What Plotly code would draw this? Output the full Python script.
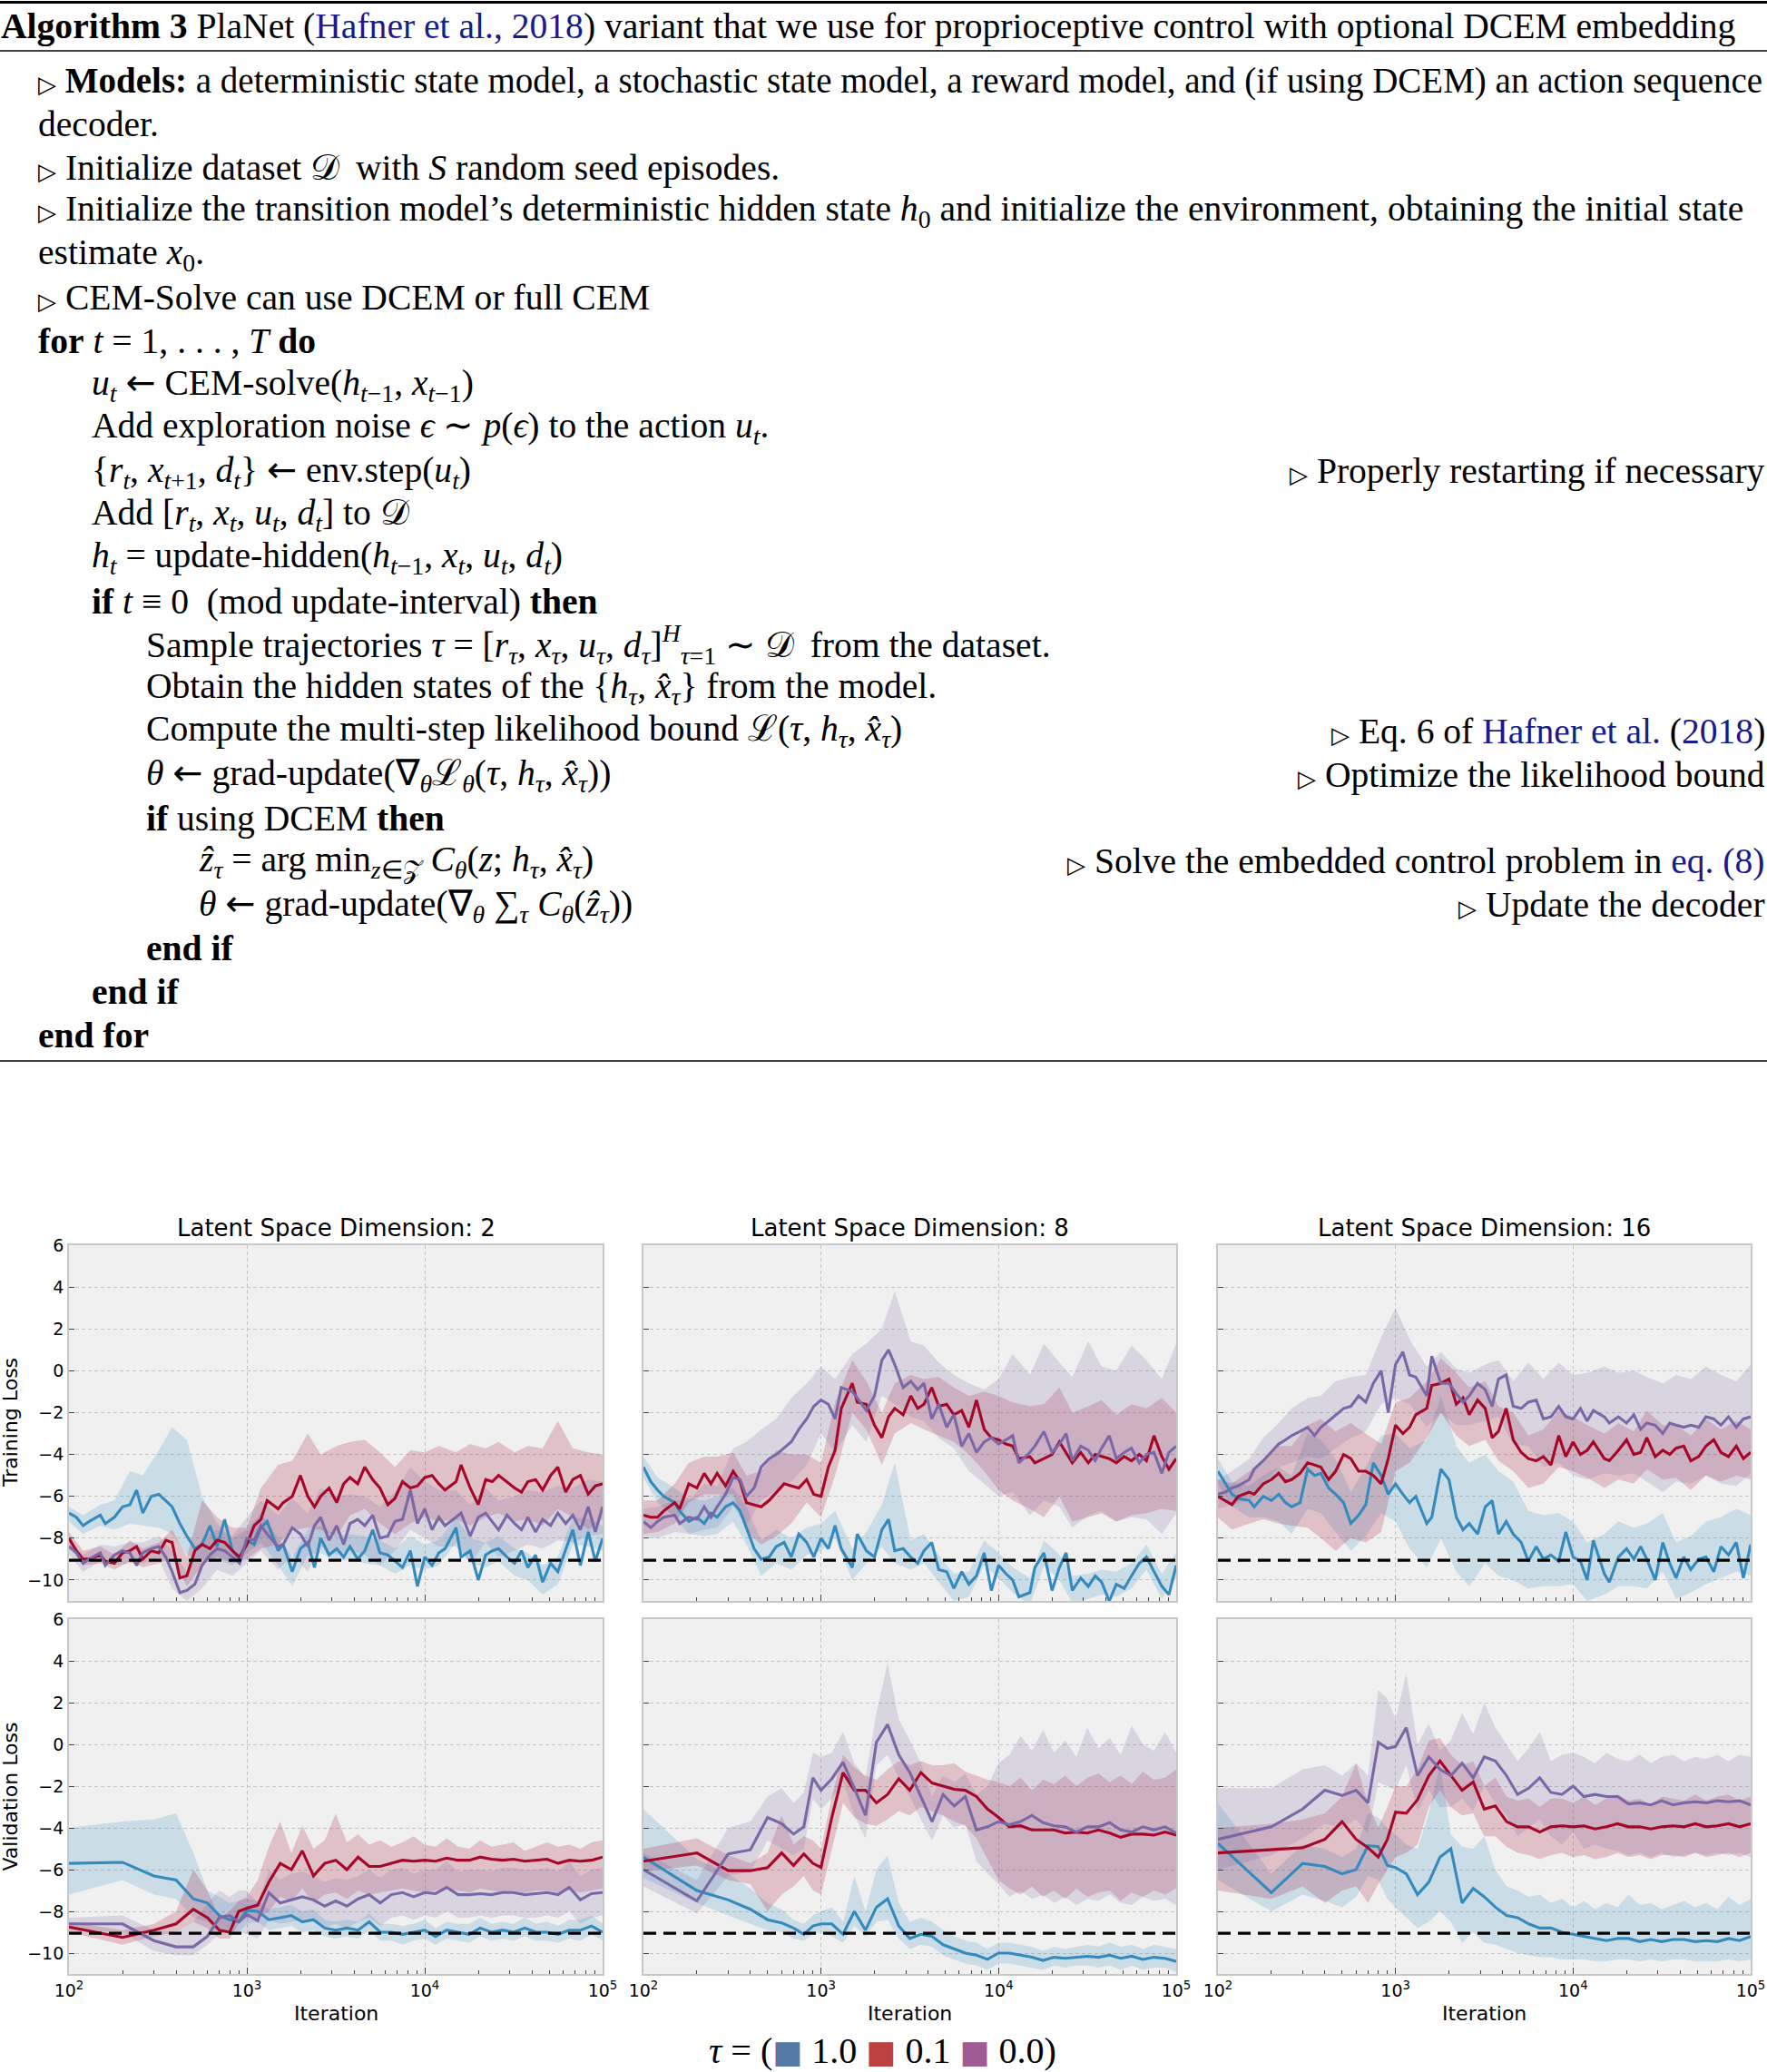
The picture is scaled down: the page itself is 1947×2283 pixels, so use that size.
import plotly.graph_objects as go

W, H = 1947, 2283

# ---------------- data ----------------
X_TRAIN = [100, 110, 120, 130, 150, 160, 180, 200, 220, 240, 260, 290, 320, 350, 380, 420, 460, 510, 560, 620, 680, 750, 830, 910,
           1000, 1100, 1200, 1300, 1500, 1600, 1800, 2000, 2200, 2400, 2600, 2900, 3200, 3500, 3800, 4200, 4600, 5100, 5600, 6200, 6800, 7500, 8300, 9100,
           10000, 11000, 12000, 13000, 15000, 16000, 18000, 20000, 22000, 24000, 26000, 29000, 32000, 35000, 38000, 42000, 46000, 51000, 56000, 62000, 68000, 75000, 83000, 91000,
           100000]
X_VAL = [100, 200, 300, 400, 500, 600, 700, 800, 900, 1000,
         1150, 1330, 1540, 1780, 2050, 2370, 2740, 3160, 3650, 4220, 4870, 5620, 6490, 7500, 8660, 10000,
         11500, 13300, 15400, 17800, 20500, 23700, 27400, 31600, 36500, 42200, 48700, 56200, 64900, 75000, 86600, 100000]

BASELINE = -9.05

# Training, latent dim 2
TL_BLUE = [-6.8,-7.0,-7.4,-7.2,-6.9,-7.3,-7.0,-6.5,-6.4,-5.7,-6.8,-6.0,-5.9,-6.2,-6.5,-7.3,-7.9,-8.5,-8.3,-7.4,-8.4,-7.1,-8.6,-9.0,
           -8.1,-8.3,-7.5,-7.2,-8.6,-8.3,-9.6,-8.5,-8.2,-9.4,-8.0,-8.8,-8.5,-8.9,-8.4,-9.0,-8.6,-7.6,-8.7,-8.8,-9.1,-9.4,-8.6,-10.3,
           -8.9,-9.3,-8.7,-8.5,-7.5,-8.9,-8.6,-10.0,-8.8,-8.6,-8.5,-8.9,-9.2,-8.6,-9.4,-8.8,-10.1,-9.2,-9.6,-8.5,-7.6,-9.3,-7.7,-9.1,
           -8.0]
TL_RED = [-8.0,-8.6,-9.0,-9.0,-8.8,-9.1,-9.2,-8.7,-8.6,-8.4,-9.0,-8.6,-8.7,-8.1,-8.2,-9.9,-9.8,-8.6,-8.3,-8.5,-8.1,-8.2,-8.6,-8.9,
          -8.3,-7.4,-7.1,-6.2,-6.6,-6.3,-6.0,-5.0,-6.0,-6.5,-6.0,-5.6,-6.3,-5.4,-5.1,-5.4,-4.6,-5.2,-5.6,-6.4,-6.1,-5.3,-5.6,-5.5,
          -5.1,-5.0,-5.4,-5.7,-5.3,-4.5,-5.6,-6.4,-5.2,-5.3,-5.0,-5.3,-5.6,-5.8,-5.3,-5.2,-5.7,-5.0,-4.6,-5.8,-5.2,-5.0,-5.9,-5.5,
          -5.4]
TL_PURPLE = [-8.4,-8.7,-9.2,-9.0,-8.7,-9.3,-8.8,-8.6,-8.7,-9.3,-8.7,-8.5,-8.4,-8.9,-9.6,-10.6,-10.5,-10.2,-9.3,-8.8,-8.5,-8.6,-8.9,-9.2,
             -8.0,-8.1,-7.4,-7.8,-8.4,-8.3,-7.5,-7.8,-8.4,-7.4,-7.0,-8.1,-7.4,-8.3,-7.3,-7.1,-7.4,-6.9,-8.0,-7.9,-7.2,-7.1,-5.7,-7.3,
             -6.6,-7.6,-7.0,-7.4,-7.0,-6.8,-7.9,-7.0,-6.8,-7.2,-7.6,-6.9,-7.3,-7.6,-7.0,-7.7,-7.1,-7.4,-6.8,-7.3,-6.9,-7.6,-6.5,-7.7,
             -6.5]
TL_BLUE_HI = [-6.5,-6.9,-6.4,-6.2,-4.8,-5.0,-3.8,-2.7,-3.3,-6.0,-7.3,-8.0,-7.6,-6.8,-8.0,-8.9,-7.6,-7.4,-7.9,-7.8,-7.9,-8.1,-8.5,-7.9,-8.3,-8.1,-7.0,-8.0,-8.2,-7.9,-8.5,-8.7,-9.3,-8.9,-7.0,-7.1,-7.4]
TL_BLUE_LO = [-7.2,-7.8,-7.4,-7.6,-7.3,-7.4,-7.5,-7.8,-8.8,-9.0,-9.0,-9.3,-8.7,-8.2,-9.3,-10.3,-8.8,-8.7,-9.1,-9.0,-9.2,-9.3,-9.7,-9.3,-9.5,-9.3,-8.2,-9.2,-9.4,-9.1,-9.8,-10.0,-10.7,-10.2,-8.3,-8.4,-8.6]
TL_RED_HI = [-7.7,-8.6,-8.4,-8.8,-8.1,-8.5,-8.2,-7.6,-8.9,-6.2,-7.0,-7.5,-7.5,-5.6,-4.5,-4.3,-3.0,-4.0,-3.6,-3.4,-3.3,-3.9,-4.6,-3.8,-3.9,-3.6,-3.9,-3.5,-3.7,-3.4,-3.9,-3.6,-3.7,-2.4,-3.7,-3.9,-4.0]
TL_RED_LO = [-8.3,-9.3,-9.2,-9.5,-9.1,-9.4,-9.2,-8.9,-10.3,-9.3,-8.9,-9.2,-9.0,-8.5,-8.3,-7.6,-7.5,-7.6,-7.9,-6.9,-6.6,-7.3,-7.8,-7.3,-7.0,-7.2,-7.1,-7.4,-7.0,-6.8,-7.2,-7.1,-7.4,-6.6,-7.0,-7.6,-7.1]
TL_PURPLE_HI = [-8.0,-8.8,-8.3,-8.4,-8.2,-8.2,-7.9,-8.6,-9.6,-8.0,-7.6,-7.9,-7.0,-6.2,-6.9,-6.1,-6.8,-5.6,-6.0,-5.9,-6.0,-6.5,-5.8,-4.6,-5.3,-5.7,-5.7,-6.4,-5.6,-6.2,-6.0,-5.7,-5.8,-5.5,-5.6,-5.2,-5.3]
TL_PURPLE_LO = [-8.8,-9.6,-9.1,-9.3,-9.2,-9.2,-9.0,-10.4,-11.0,-10.4,-9.5,-9.8,-9.2,-8.6,-9.5,-8.8,-9.6,-8.4,-8.8,-8.6,-8.8,-9.3,-8.6,-7.6,-8.0,-8.4,-8.4,-9.2,-8.2,-8.9,-8.6,-8.3,-8.5,-8.1,-8.2,-7.9,-7.8]

# Training, latent dim 8
TM_BLUE = [-4.6,-5.3,-5.7,-6.0,-6.3,-6.7,-7.2,-7.0,-7.3,-6.8,-7.0,-6.5,-6.3,-6.7,-7.5,-8.5,-9.0,-8.9,-8.4,-8.2,-8.9,-7.8,-8.2,-8.9,
           -8.0,-8.5,-7.4,-8.5,-9.4,-7.8,-8.6,-8.9,-7.6,-7.1,-8.6,-8.5,-8.9,-9.2,-8.6,-8.2,-9.5,-9.6,-10.4,-9.6,-10.2,-9.8,-8.7,-10.5,
           -9.3,-9.7,-10.0,-10.8,-10.6,-9.4,-8.7,-10.5,-9.4,-8.7,-10.5,-9.9,-10.3,-9.8,-10.1,-11.0,-10.2,-10.4,-9.8,-9.2,-8.9,-9.6,-10.3,-10.7,
           -9.3]
TM_RED = [-6.9,-7.0,-7.0,-6.7,-6.3,-6.6,-5.4,-5.6,-4.9,-5.4,-4.9,-5.5,-4.8,-5.3,-6.3,-6.4,-6.5,-6.2,-5.8,-5.4,-5.5,-5.6,-5.2,-5.9,
          -6.0,-4.6,-3.8,-1.8,-0.6,-1.5,-1.6,-2.6,-3.2,-2.2,-1.8,-2.1,-1.2,-1.8,-1.6,-0.8,-1.7,-1.6,-2.1,-1.9,-2.7,-1.4,-2.8,-3.2,
          -3.3,-3.5,-3.6,-4.2,-4.1,-4.4,-4.2,-4.0,-3.4,-3.9,-4.4,-3.9,-4.4,-4.0,-4.1,-4.2,-4.4,-4.1,-4.3,-4.0,-4.3,-3.1,-4.1,-4.7,
          -4.2]
TM_PURPLE = [-7.2,-7.5,-7.2,-7.0,-6.9,-7.3,-7.0,-7.1,-6.5,-7.0,-6.5,-5.9,-5.1,-5.2,-6.0,-5.6,-4.6,-4.2,-4.0,-3.7,-3.4,-2.8,-2.3,-1.7,
             -1.4,-1.6,-2.3,-0.8,-1.0,-1.3,-1.9,-1.2,0.5,1.0,0.3,-0.8,-0.5,-0.9,-0.6,-2.3,-1.6,-2.7,-2.1,-3.6,-3.0,-3.9,-3.4,-3.2,
             -3.5,-3.3,-3.1,-4.4,-3.9,-3.6,-2.9,-3.9,-3.5,-3.0,-4.3,-3.6,-3.8,-4.3,-3.7,-3.1,-4.2,-3.9,-3.7,-4.4,-4.0,-3.9,-4.9,-3.9,
             -3.6]
TM_BLUE_HI = [-4.1,-5.1,-5.6,-6.1,-6.2,-6.0,-5.6,-6.5,-8.1,-7.6,-8.0,-7.5,-7.3,-6.7,-8.5,-7.7,-6.4,-4.4,-8.1,-7.8,-8.8,-9.7,-9.6,-8.1,-8.7,-9.4,-9.9,-8.1,-8.8,-9.8,-9.7,-9.5,-9.6,-9.2,-8.3,-9.7,-8.7]
TM_BLUE_LO = [-5.1,-6.3,-7.0,-7.8,-7.9,-7.8,-7.2,-8.3,-9.8,-9.2,-9.5,-8.8,-8.6,-8.0,-10.0,-9.2,-8.4,-9.2,-9.5,-9.2,-10.1,-11.0,-10.8,-9.3,-9.9,-10.6,-11.2,-9.3,-10.0,-11.1,-10.9,-10.7,-10.8,-10.4,-9.5,-10.9,-9.9]
TM_RED_HI = [-6.2,-6.2,-5.4,-4.4,-4.1,-4.1,-3.9,-5.0,-4.8,-3.8,-4.0,-4.0,-4.4,-1.5,0.5,-0.5,-2.0,-0.6,-0.2,-0.4,-0.3,-0.8,-1.2,-1.0,-1.2,-1.5,-1.7,-1.6,-0.8,-2.0,-1.7,-1.4,-2.1,-1.6,-1.8,-1.3,-2.0]
TM_RED_LO = [-7.8,-7.7,-7.3,-6.3,-5.9,-5.9,-5.9,-7.7,-8.3,-7.9,-7.3,-6.3,-7.0,-5.0,-2.0,-2.8,-4.5,-3.0,-2.5,-2.8,-3.1,-3.4,-4.0,-4.8,-5.7,-6.2,-6.6,-7.0,-6.0,-7.2,-7.0,-6.8,-7.2,-6.9,-6.8,-6.6,-6.7]
TM_PURPLE_HI = [-6.6,-6.5,-6.2,-6.2,-5.4,-5.5,-3.7,-3.4,-2.8,-2.3,-1.3,-0.6,0.2,-0.4,0.8,1.3,2.0,3.8,1.4,1.2,0.4,-0.2,-0.6,-0.9,-0.4,0.8,-0.2,1.3,0.4,-0.3,1.4,0.2,0.0,1.2,0.5,-0.4,1.3]
TM_PURPLE_LO = [-7.9,-8.0,-7.7,-7.8,-7.6,-7.5,-6.5,-7.4,-6.2,-5.7,-5.3,-4.5,-3.0,-3.9,-2.6,-3.4,-1.2,-1.6,-2.2,-2.4,-3.2,-3.7,-4.8,-5.4,-6.0,-5.8,-6.9,-6.2,-6.5,-7.5,-6.9,-6.7,-7.2,-7.0,-7.1,-7.8,-6.8]

# Training, latent dim 16
TR_BLUE = [-4.8,-5.4,-5.9,-6.1,-6.2,-6.5,-6.0,-6.2,-5.9,-6.3,-6.5,-6.3,-4.7,-5.0,-4.9,-5.6,-5.9,-6.3,-7.3,-6.9,-6.4,-4.4,-5.0,-5.9,
           -5.4,-5.9,-6.3,-6.0,-7.3,-7.0,-4.7,-5.2,-7.0,-7.6,-7.3,-7.8,-6.5,-6.2,-7.8,-7.2,-7.8,-8.2,-9.1,-8.4,-9.0,-8.8,-9.1,-7.7,
           -8.9,-9.1,-10.0,-8.1,-9.7,-10.1,-8.9,-8.5,-9.0,-8.4,-9.0,-10.0,-8.2,-9.2,-9.9,-8.9,-9.5,-9.0,-8.9,-9.6,-8.4,-8.8,-8.2,-9.9,
           -8.3]
TR_RED = [-6.0,-6.2,-6.4,-6.0,-5.8,-5.9,-5.4,-5.2,-4.9,-5.3,-5.2,-4.9,-4.4,-4.5,-4.6,-5.2,-4.8,-4.0,-4.2,-4.8,-4.8,-5.0,-5.4,-4.2,
          -2.6,-3.0,-2.7,-2.1,-1.8,-0.7,-0.6,-0.4,-1.6,-1.3,-2.1,-1.4,-1.8,-3.2,-2.9,-1.8,-3.3,-3.9,-4.2,-4.3,-4.1,-4.5,-3.1,-4.1,
          -3.4,-4.0,-3.8,-3.4,-4.2,-4.3,-3.8,-3.3,-4.0,-3.9,-3.2,-4.1,-3.8,-4.0,-3.7,-3.6,-4.3,-4.1,-3.6,-3.3,-3.9,-4.1,-3.6,-4.2,
          -3.9]
TR_PURPLE = [-5.9,-5.8,-5.6,-5.5,-5.2,-4.7,-4.3,-3.9,-3.5,-3.3,-3.1,-2.9,-2.7,-3.1,-2.7,-2.4,-2.1,-1.8,-1.7,-1.2,-1.5,-0.6,0.0,-2.0,
             0.3,0.9,-0.2,-0.3,-1.2,0.7,-0.6,-0.6,-1.1,-1.5,-1.2,-0.6,-0.9,-1.7,-0.4,-0.2,-1.7,-1.8,-1.5,-1.4,-2.3,-2.2,-1.7,-2.2,
             -2.3,-1.8,-2.4,-1.9,-2.2,-2.5,-2.2,-2.5,-2.1,-2.8,-2.5,-2.6,-3.0,-2.5,-2.6,-2.7,-2.6,-2.7,-2.2,-2.3,-2.6,-2.2,-2.7,-2.3,
             -2.2]
TR_BLUE_HI = [-4.2,-5.3,-5.5,-5.0,-4.6,-5.0,-3.0,-3.3,-4.2,-5.8,-4.6,-3.1,-3.0,-3.7,-3.3,-1.2,-3.6,-4.4,-4.0,-4.8,-5.3,-6.7,-6.9,-6.8,-7.2,-8.2,-7.8,-7.2,-7.5,-7.3,-6.8,-8.2,-7.9,-7.2,-7.0,-6.6,-6.9]
TR_BLUE_LO = [-5.4,-6.5,-7.0,-7.0,-7.2,-7.8,-6.6,-6.8,-7.7,-8.6,-7.9,-6.8,-7.2,-8.5,-9.4,-8.0,-9.6,-10.3,-9.2,-9.8,-10.0,-10.4,-10.3,-10.3,-10.2,-11.0,-10.7,-10.3,-10.3,-10.4,-9.6,-10.9,-10.6,-10.2,-9.9,-9.6,-9.8]
TR_RED_HI = [-5.2,-5.4,-4.8,-4.3,-3.6,-3.6,-2.6,-2.3,-2.9,-2.5,-3.0,-3.5,-1.5,-1.3,-0.5,0.6,-0.1,-0.8,-0.5,-1.7,-2.0,-3.1,-2.8,-1.9,-2.2,-2.6,-3.0,-2.5,-2.9,-1.9,-2.6,-2.6,-3.1,-2.3,-2.8,-2.4,-2.8]
TR_RED_LO = [-7.0,-7.6,-7.3,-7.1,-7.3,-7.4,-7.5,-8.0,-8.6,-8.0,-8.2,-7.7,-4.8,-4.4,-3.2,-2.0,-3.1,-3.6,-3.3,-4.3,-4.8,-5.6,-5.4,-4.6,-4.8,-5.1,-5.6,-5.2,-5.4,-4.7,-5.2,-5.1,-5.7,-5.0,-5.3,-5.0,-5.2]
TR_PURPLE_HI = [-5.2,-4.8,-4.2,-3.2,-2.5,-1.8,-1.3,-1.2,-0.5,-0.3,-0.2,1.6,3.0,1.5,0.2,0.9,0.1,-0.1,0.3,0.5,-0.5,0.4,-0.4,0.4,-0.2,-0.1,0.2,-0.1,0.0,-0.3,-0.6,-0.2,-0.4,0.2,-0.2,-0.5,0.3]
TR_PURPLE_LO = [-6.6,-6.4,-6.2,-5.4,-4.6,-4.4,-4.1,-4.2,-3.7,-3.2,-2.9,-1.6,-1.3,-1.6,-2.7,-2.0,-2.6,-2.6,-2.4,-2.2,-3.5,-3.6,-4.6,-4.4,-5.0,-5.2,-4.9,-5.0,-4.9,-5.3,-5.8,-5.3,-5.4,-5.0,-5.4,-5.5,-4.9]

# Validation, latent dim 2
BL_BLUE = [-5.7,-5.65,-6.3,-6.5,-7.4,-7.6,-8.2,-8.4,-8.5,-7.95,
           -8.0,-8.4,-8.3,-8.2,-8.5,-8.4,-8.8,-8.9,-8.8,-8.9,-8.5,-9.0,-9.0,-9.1,-9.0,-8.9,
           -9.2,-8.9,-9.0,-9.1,-8.8,-9.0,-8.9,-9.0,-8.8,-9.0,-9.0,-9.1,-8.9,-8.9,-8.7,-9.0]
BL_BLUE_HI = [-4.0,-3.7,-3.6,-3.3,-5.2,-7.0,-7.3,-7.6,-7.5,-7.4,
              -7.5,-7.9,-7.8,-7.7,-8.0,-7.9,-8.4,-8.5,-8.4,-8.5,-8.1,-8.6,-8.6,-8.7,-8.6,-8.4,
              -8.8,-8.5,-8.6,-8.6,-8.3,-8.6,-8.5,-8.6,-8.3,-8.6,-8.5,-8.7,-8.4,-8.4,-8.2,-8.6]
BL_BLUE_LO = [-7.2,-6.5,-7.2,-7.4,-8.3,-8.5,-9.0,-9.0,-9.0,-8.6,
              -8.5,-8.9,-8.8,-8.7,-9.0,-8.9,-9.2,-9.3,-9.2,-9.3,-8.9,-9.4,-9.4,-9.6,-9.4,-9.3,
              -9.6,-9.3,-9.4,-9.5,-9.2,-9.4,-9.3,-9.4,-9.2,-9.4,-9.4,-9.5,-9.3,-9.4,-9.1,-9.4]
BL_RED = [-8.75,-9.25,-8.9,-8.6,-7.9,-8.3,-8.9,-9.0,-8.0,-7.85,
          -7.7,-6.6,-5.7,-6.0,-5.1,-6.3,-5.7,-5.55,-6.0,-5.4,-5.85,-5.85,-5.7,-5.55,-5.6,-5.55,
          -5.6,-5.45,-5.55,-5.55,-5.4,-5.5,-5.55,-5.5,-5.6,-5.55,-5.5,-5.7,-5.55,-5.6,-5.55,-5.4]
BL_RED_HI = [-8.5,-8.9,-8.6,-8.0,-6.0,-7.0,-8.3,-8.0,-7.5,-7.3,
             -6.5,-4.9,-3.7,-5.2,-3.9,-5.0,-4.6,-3.3,-4.7,-4.3,-4.8,-4.6,-4.9,-4.7,-4.4,-4.8,
             -4.9,-4.5,-4.9,-5.0,-4.6,-4.9,-4.8,-4.7,-5.1,-4.9,-4.7,-4.9,-4.8,-5.0,-4.7,-4.6]
BL_RED_LO = [-9.0,-9.6,-9.2,-9.0,-8.5,-8.8,-9.3,-9.3,-8.6,-8.3,
             -8.3,-8.0,-7.3,-7.5,-6.9,-7.6,-7.2,-7.1,-7.4,-7.0,-7.2,-7.1,-7.0,-6.9,-7.0,-7.1,
             -7.0,-6.9,-7.0,-7.1,-6.9,-7.0,-7.1,-7.0,-7.1,-7.0,-7.0,-7.1,-7.0,-7.1,-7.0,-6.9]
BL_PURPLE = [-8.6,-8.6,-9.4,-9.7,-9.7,-9.2,-8.3,-8.2,-8.5,-8.15,
             -8.45,-7.1,-7.6,-7.45,-7.3,-7.45,-7.75,-7.5,-7.75,-7.4,-7.2,-7.6,-7.2,-7.1,-7.3,-7.1,
             -7.15,-6.85,-7.2,-7.2,-7.15,-7.2,-7.1,-7.1,-7.2,-7.15,-7.1,-7.2,-6.85,-7.45,-7.15,-7.1]
BL_PURPLE_HI = [-8.3,-8.2,-8.9,-9.0,-8.5,-7.6,-7.0,-7.3,-7.0,-7.0,
                -7.6,-6.0,-6.5,-6.2,-6.1,-6.3,-6.6,-6.4,-6.5,-6.3,-6.0,-6.4,-6.0,-5.9,-6.2,-6.0,
                -6.0,-5.6,-6.1,-6.0,-6.0,-6.1,-5.9,-5.9,-6.0,-6.0,-5.9,-6.1,-5.6,-6.3,-6.0,-5.9]
BL_PURPLE_LO = [-8.9,-9.0,-9.9,-10.1,-10.1,-9.6,-9.1,-9.0,-9.0,-9.1,
                -9.3,-8.4,-8.6,-8.5,-8.4,-8.5,-8.8,-8.6,-8.8,-8.5,-8.3,-8.7,-8.3,-8.2,-8.4,-8.2,
                -8.3,-8.0,-8.3,-8.3,-8.2,-8.3,-8.2,-8.2,-8.3,-8.3,-8.2,-8.3,-8.0,-8.6,-8.3,-8.2]

# Validation, latent dim 8
BM_BLUE = [-5.4,-7.0,-7.45,-7.9,-8.4,-8.55,-8.8,-9.1,-8.7,-8.6,
           -8.6,-9.1,-8.0,-8.9,-7.8,-7.4,-8.7,-9.3,-9.1,-9.2,-9.6,-9.8,-10.0,-10.1,-10.3,-10.0,
           -10.0,-10.1,-10.2,-10.35,-10.2,-10.25,-10.2,-10.15,-10.2,-10.1,-10.25,-10.15,-10.3,-10.2,-10.25,-10.4]
BM_BLUE_HI = [-3.1,-5.5,-6.2,-6.9,-7.6,-7.9,-8.4,-8.6,-8.2,-8.0,
              -7.8,-8.5,-6.3,-8.0,-6.0,-5.3,-7.6,-8.5,-8.3,-8.5,-8.9,-9.2,-9.4,-9.5,-9.8,-9.5,
              -9.5,-9.6,-9.7,-9.9,-9.7,-9.8,-9.7,-9.6,-9.7,-9.5,-9.7,-9.6,-9.8,-9.6,-9.7,-9.8]
BM_BLUE_LO = [-6.4,-7.6,-8.2,-8.6,-8.9,-9.0,-9.3,-9.4,-9.1,-9.0,
              -9.2,-9.5,-8.7,-9.2,-8.5,-8.4,-9.3,-9.8,-9.6,-9.7,-10.1,-10.3,-10.5,-10.6,-10.8,-10.5,
              -10.5,-10.6,-10.7,-10.8,-10.6,-10.7,-10.6,-10.6,-10.7,-10.6,-10.8,-10.6,-10.8,-10.7,-10.7,-10.9]
BM_RED = [-5.6,-5.2,-6.05,-6.05,-5.9,-5.2,-5.8,-5.25,-5.7,-5.9,
          -3.5,-1.35,-2.2,-2.2,-2.8,-2.4,-1.65,-2.2,-1.35,-1.85,-2.0,-2.15,-2.2,-2.5,-3.1,-3.5,
          -3.95,-3.9,-4.1,-4.1,-4.1,-4.25,-4.2,-4.25,-4.1,-4.25,-4.45,-4.3,-4.3,-4.35,-4.2,-4.35]
BM_RED_HI = [-5.0,-4.5,-5.3,-5.7,-5.2,-3.4,-4.8,-4.4,-4.6,-5.0,
             -2.5,-0.5,-1.1,-1.5,-1.7,-1.2,-0.8,-1.0,-0.8,-1.0,-1.0,-0.9,-1.3,-1.5,-1.7,-1.8,
             -2.0,-1.6,-2.2,-1.7,-1.9,-1.5,-2.0,-1.6,-1.4,-1.8,-1.5,-1.9,-1.3,-1.7,-1.6,-1.2]
BM_RED_LO = [-6.1,-5.8,-6.5,-6.7,-8.0,-7.2,-6.8,-6.3,-7.0,-7.2,
             -5.0,-2.8,-3.5,-3.8,-3.9,-3.6,-3.2,-3.4,-3.0,-3.2,-3.4,-3.7,-3.9,-4.5,-5.5,-6.5,
             -6.9,-7.2,-6.8,-7.3,-7.0,-7.4,-6.9,-7.3,-7.1,-7.0,-7.5,-7.1,-7.3,-7.0,-7.2,-6.9]
BM_PURPLE = [-6.0,-7.5,-5.25,-5.05,-3.5,-3.8,-4.3,-3.95,-1.6,-2.2,
             -1.65,-0.85,-2.1,-3.4,0.1,0.95,-0.5,-1.35,-2.5,-3.7,-2.4,-2.95,-2.5,-4.1,-3.95,-3.7,
             -3.85,-3.7,-3.4,-3.75,-3.9,-3.95,-4.2,-3.95,-3.95,-3.75,-4.1,-4.2,-3.95,-4.1,-3.95,-4.25]
BM_PURPLE_HI = [-5.2,-6.5,-4.0,-3.7,-2.5,-2.1,-2.8,-2.3,-0.4,-0.6,
                -0.4,0.6,-0.9,-1.6,1.5,3.9,1.2,0.2,-0.9,-2.5,-1.5,-1.8,-1.4,-2.4,-2.0,-0.9,
                -0.5,0.4,-0.3,0.7,-0.4,0.2,-0.6,0.8,-0.2,0.3,-0.5,0.9,0.0,-0.3,0.6,-0.4]
BM_PURPLE_LO = [-6.8,-8.1,-6.3,-6.1,-4.6,-5.0,-5.3,-5.0,-2.6,-3.1,
                -2.6,-1.8,-3.4,-4.5,-1.0,-0.5,-1.6,-2.5,-3.6,-4.6,-3.4,-4.0,-3.8,-5.6,-6.2,-6.7,
                -7.3,-7.0,-7.4,-7.2,-7.6,-7.3,-7.7,-7.4,-7.5,-7.2,-7.6,-7.7,-7.3,-7.5,-7.4,-7.7]

# Validation, latent dim 16
BR_BLUE = [-4.75,-7.1,-5.7,-5.85,-6.2,-6.0,-4.85,-4.9,-5.8,-5.9,
           -6.2,-7.2,-6.6,-5.4,-5.0,-7.6,-6.9,-7.3,-7.8,-8.2,-8.3,-8.6,-8.8,-8.8,-9.0,-9.1,
           -9.2,-9.3,-9.4,-9.3,-9.3,-9.45,-9.35,-9.45,-9.35,-9.35,-9.45,-9.4,-9.45,-9.3,-9.4,-9.2]
BR_BLUE_HI = [-2.8,-6.2,-4.8,-5.0,-5.4,-5.0,-3.3,-3.5,-4.0,-4.3,
              -4.8,-5.0,-3.3,-1.0,-4.3,-4.9,-5.0,-4.4,-6.0,-6.8,-7.0,-7.3,-7.2,-7.6,-7.4,-7.8,
              -7.5,-7.9,-7.6,-7.8,-7.2,-7.7,-7.6,-7.9,-7.7,-7.5,-7.8,-7.6,-7.9,-7.3,-7.7,-7.4]
BR_BLUE_LO = [-6.5,-8.0,-7.2,-7.5,-7.8,-7.3,-6.3,-6.5,-7.4,-7.8,
              -8.3,-8.8,-8.5,-8.0,-8.5,-9.5,-9.0,-9.5,-9.6,-9.8,-10.0,-10.1,-10.2,-10.2,-10.3,-10.3,
              -10.3,-10.4,-10.4,-10.3,-10.3,-10.4,-10.3,-10.4,-10.3,-10.3,-10.4,-10.4,-10.4,-10.3,-10.4,-10.3]
BR_RED = [-5.2,-5.05,-4.95,-4.55,-3.7,-4.55,-4.95,-5.4,-4.55,-3.25,
          -3.3,-2.65,-1.5,-0.8,-1.5,-2.2,-1.8,-3.1,-2.95,-3.7,-3.95,-3.95,-4.2,-3.95,-3.9,-3.95,
          -3.9,-4.05,-3.95,-3.8,-3.95,-3.95,-4.05,-3.95,-3.9,-3.95,-3.8,-3.95,-3.9,-3.8,-3.95,-3.8]
BR_RED_HI = [-4.0,-3.8,-3.6,-3.3,-2.5,-0.9,-2.8,-4.0,-3.0,-2.0,
             -2.0,-1.2,0.2,0.3,-0.5,-1.0,-0.8,-2.0,-1.6,-2.5,-2.7,-2.6,-3.0,-2.6,-2.6,-2.8,
             -2.5,-2.9,-2.6,-2.4,-2.7,-2.6,-2.9,-2.5,-2.6,-2.7,-2.4,-2.7,-2.5,-2.4,-2.7,-2.5]
BR_RED_LO = [-7.0,-7.4,-6.8,-7.6,-7.0,-6.8,-7.6,-6.7,-6.0,-5.4,
             -5.2,-4.8,-3.0,-2.2,-3.0,-3.4,-3.3,-4.4,-4.4,-4.9,-5.2,-5.3,-5.5,-5.3,-5.2,-5.4,
             -5.3,-5.5,-5.4,-5.2,-5.4,-5.3,-5.5,-5.3,-5.3,-5.4,-5.2,-5.4,-5.3,-5.2,-5.4,-5.2]
BR_PURPLE = [-4.55,-3.95,-3.1,-2.2,-2.45,-2.2,-2.8,0.1,-0.2,-0.1,
             0.8,-1.5,-0.6,-1.2,-1.5,-0.9,-1.6,-0.6,-0.8,-1.5,-2.4,-2.1,-1.6,-2.3,-2.4,-2.0,
             -2.5,-2.4,-2.5,-2.5,-2.85,-2.8,-2.9,-2.7,-2.9,-2.8,-2.75,-2.8,-2.7,-2.75,-2.7,-2.9]
BR_PURPLE_HI = [-2.1,-2.1,-1.2,-1.0,-1.5,-0.9,-1.5,2.6,2.2,1.2,
                3.4,0.0,1.0,-0.3,0.2,1.5,0.5,2.0,0.8,0.0,-0.8,-0.2,0.6,-0.8,-0.5,-0.4,
                -0.6,-0.9,-0.4,-0.7,-0.8,-0.5,-0.9,-0.6,-0.5,-0.8,-0.6,-0.7,-0.5,-0.8,-0.5,-0.6]
BR_PURPLE_LO = [-6.0,-5.3,-4.5,-3.8,-4.0,-3.6,-4.3,-1.8,-2.0,-2.2,
                -1.0,-3.2,-2.2,-3.0,-3.0,-2.6,-3.2,-2.0,-2.8,-3.4,-4.4,-4.0,-3.6,-4.4,-4.8,-4.2,
                -5.0,-4.8,-5.0,-5.1,-5.3,-5.2,-5.4,-5.2,-5.4,-5.3,-5.2,-5.3,-5.2,-5.3,-5.2,-5.4]

PANEL_TITLES = ["Latent Space Dimension: 2", "Latent Space Dimension: 8", "Latent Space Dimension: 16"]
ROW_LABELS = ["Training Loss", "Validation Loss"]
X_LABEL = "Iteration"
X_TICKS = [100, 1000, 10000, 100000]
X_TICK_TEXT = ["10<sup>2</sup>", "10<sup>3</sup>", "10<sup>4</sup>", "10<sup>5</sup>"]
X_MINOR = [m * d for d in (100, 1000, 10000) for m in range(2, 10)]
Y_TICKS = [-10, -8, -6, -4, -2, 0, 2, 4, 6]
Y_TICK_TEXT = ["\u221210", "\u22128", "\u22126", "\u22124", "\u22122", "0", "2", "4", "6"]
TAU_LABELS = ["1.0", "0.1", "0.0"]

LINK = "#1a1a8c"
def link(t):
    return "<span style='color:%s'>%s</span>" % (LINK, t)

TRI = "<span style='font-family:DejaVu Sans;font-size:26px'>\u25b7</span>"
ARR = "<span style='font-family:DejaVu Sans'>\u2190</span>"
CAL_D = "\U0001D49F\u2009"
CAL_Z = "\U0001D4B5"

ALGO_TITLE = "<b>Algorithm 3</b> PlaNet (" + link("Hafner et al., 2018") + ") variant that we use for proprioceptive control with optional DCEM embedding"
# (indent level, text, right-aligned comment)
ALGO_LINES = [
    (0, TRI + " <b>Models:</b> a deterministic state model, a stochastic state model, a reward model, and (if using DCEM) an action sequence", None),
    (0, "decoder.", None),
    (0, TRI + " Initialize dataset " + CAL_D + " with <i>S</i> random seed episodes.", None),
    (0, TRI + " Initialize the transition model\u2019s deterministic hidden state <i>h</i><sub>0</sub> and initialize the environment, obtaining the initial state", None),
    (0, "estimate <i>x</i><sub>0</sub>.", None),
    (0, TRI + " CEM-Solve can use DCEM or full CEM", None),
    (0, "<b>for</b> <i>t</i> = 1, . . . , <i>T</i> <b>do</b>", None),
    (1, "<i>u<sub>t</sub></i> " + ARR + " CEM-solve(<i>h</i><sub><i>t</i>\u22121</sub>, <i>x</i><sub><i>t</i>\u22121</sub>)", None),
    (1, "Add exploration noise <i>\u03f5</i> \u223c <i>p</i>(<i>\u03f5</i>) to the action <i>u<sub>t</sub></i>.", None),
    (1, "{<i>r<sub>t</sub></i>, <i>x</i><sub><i>t</i>+1</sub>, <i>d<sub>t</sub></i>} " + ARR + " env.step(<i>u<sub>t</sub></i>)", TRI + " Properly restarting if necessary"),
    (1, "Add [<i>r<sub>t</sub></i>, <i>x<sub>t</sub></i>, <i>u<sub>t</sub></i>, <i>d<sub>t</sub></i>] to " + CAL_D, None),
    (1, "<i>h<sub>t</sub></i> = update-hidden(<i>h</i><sub><i>t</i>\u22121</sub>, <i>x<sub>t</sub></i>, <i>u<sub>t</sub></i>, <i>d<sub>t</sub></i>)", None),
    (1, "<b>if</b> <i>t</i> \u2261 0  (mod update-interval) <b>then</b>", None),
    (2, "Sample trajectories <i>\u03c4</i> = [<i>r<sub>\u03c4</sub></i>, <i>x<sub>\u03c4</sub></i>, <i>u<sub>\u03c4</sub></i>, <i>d<sub>\u03c4</sub></i>]<sup><i>H</i></sup><sub><i>\u03c4</i>=1</sub> \u223c " + CAL_D + " from the dataset.", None),
    (2, "Obtain the hidden states of the {<i>h<sub>\u03c4</sub></i>, <i>x\u0302<sub>\u03c4</sub></i>} from the model.", None),
    (2, "Compute the multi-step likelihood bound \u2112(<i>\u03c4</i>, <i>h<sub>\u03c4</sub></i>, <i>x\u0302<sub>\u03c4</sub></i>)", TRI + " Eq. 6 of " + link("Hafner et al.") + " (" + link("2018") + ")"),
    (2, "<i>\u03b8</i> " + ARR + " grad-update(\u2207<sub><i>\u03b8</i></sub>\u2112<sub><i>\u03b8</i></sub>(<i>\u03c4</i>, <i>h<sub>\u03c4</sub></i>, <i>x\u0302<sub>\u03c4</sub></i>))", TRI + " Optimize the likelihood bound"),
    (2, "<b>if</b> using DCEM <b>then</b>", None),
    (3, "<i>\u1e91<sub>\u03c4</sub></i> = arg min<sub><i>z</i>\u2208" + CAL_Z + "</sub> <i>C<sub>\u03b8</sub></i>(<i>z</i>; <i>h<sub>\u03c4</sub></i>, <i>x\u0302<sub>\u03c4</sub></i>)", TRI + " Solve the embedded control problem in " + link("eq. (8)")),
    (3, "<i>\u03b8</i> " + ARR + " grad-update(\u2207<sub><i>\u03b8</i></sub> \u2211<sub><i>\u03c4</i></sub> <i>C<sub>\u03b8</sub></i>(<i>\u1e91<sub>\u03c4</sub></i>))", TRI + " Update the decoder"),
    (2, "<b>end if</b>", None),
    (1, "<b>end if</b>", None),
    (0, "<b>end for</b>", None),
]

# ---------------- styling / layout ----------------
BLUE, RED, PURPLE = "#348ABD", "#A60628", "#7A68A6"
FILLS = ["rgba(52,138,189,0.2)", "rgba(166,6,40,0.2)", "rgba(122,104,166,0.2)"]
LEGEND_SQ = ["#557AA6", "#BE4141", "#A05A94"]
SERIF = "Liberation Serif"
SANS = "DejaVu Sans"
ALGO_SIZE = 39.6
MODELS_SIZE = 39.0   # the justified first line is set a touch tighter

COL_X = [(76, 664), (709, 1296), (1342, 1929)]
ROW_Y = [(1372, 1764), (1784, 2175)]
INDENT_X = [41, 100, 160, 218]

panels = [
    (X_TRAIN, X_TRAIN[::2], [(TL_BLUE, TL_BLUE_LO, TL_BLUE_HI), (TL_RED, TL_RED_LO, TL_RED_HI), (TL_PURPLE, TL_PURPLE_LO, TL_PURPLE_HI)]),
    (X_TRAIN, X_TRAIN[::2], [(TM_BLUE, TM_BLUE_LO, TM_BLUE_HI), (TM_RED, TM_RED_LO, TM_RED_HI), (TM_PURPLE, TM_PURPLE_LO, TM_PURPLE_HI)]),
    (X_TRAIN, X_TRAIN[::2], [(TR_BLUE, TR_BLUE_LO, TR_BLUE_HI), (TR_RED, TR_RED_LO, TR_RED_HI), (TR_PURPLE, TR_PURPLE_LO, TR_PURPLE_HI)]),
    (X_VAL, X_VAL, [(BL_BLUE, BL_BLUE_LO, BL_BLUE_HI), (BL_RED, BL_RED_LO, BL_RED_HI), (BL_PURPLE, BL_PURPLE_LO, BL_PURPLE_HI)]),
    (X_VAL, X_VAL, [(BM_BLUE, BM_BLUE_LO, BM_BLUE_HI), (BM_RED, BM_RED_LO, BM_RED_HI), (BM_PURPLE, BM_PURPLE_LO, BM_PURPLE_HI)]),
    (X_VAL, X_VAL, [(BR_BLUE, BR_BLUE_LO, BR_BLUE_HI), (BR_RED, BR_RED_LO, BR_RED_HI), (BR_PURPLE, BR_PURPLE_LO, BR_PURPLE_HI)]),
]

fig = go.Figure()
LINE_COLORS = [BLUE, RED, PURPLE]
for p, (xs, xb, series) in enumerate(panels):
    n = "" if p == 0 else str(p + 1)
    xa, ya = "x" + n, "y" + n
    for (m, lo, hi), fc in zip(series, FILLS):
        fig.add_trace(go.Scatter(x=list(xb) + list(xb)[::-1], y=list(hi) + list(lo)[::-1],
                                 fill="toself", fillcolor=fc, line=dict(width=0), mode="lines",
                                 hoverinfo="skip", showlegend=False, xaxis=xa, yaxis=ya))
    for (m, lo, hi), lc in zip(series, LINE_COLORS):
        fig.add_trace(go.Scatter(x=xs, y=m, mode="lines", line=dict(color=lc, width=3.1),
                                 showlegend=False, xaxis=xa, yaxis=ya))
    fig.add_trace(go.Scatter(x=[xs[0], xs[-1]], y=[BASELINE, BASELINE], mode="lines",
                             line=dict(color="black", width=3.2, dash="14px,8px"),
                             showlegend=False, xaxis=xa, yaxis=ya))

layout = {}
tickfont = dict(family=SANS, size=19, color="black")
for p in range(6):
    r, c = divmod(p, 3)
    n = "" if p == 0 else str(p + 1)
    x0, x1 = COL_X[c]
    y0, y1 = ROW_Y[r]
    layout["xaxis" + n] = dict(
        domain=[x0 / W, x1 / W], anchor="y" + n, type="log", range=[2, 5], automargin=False,
        showline=True, linecolor="#c8c8c8", linewidth=1.8, mirror=True,
        showgrid=True, gridcolor="#c4c4c4", gridwidth=0.9, griddash="4px,3px",
        tickmode="array", tickvals=X_TICKS, ticktext=X_TICK_TEXT, showticklabels=(r == 1),
        ticks="inside", ticklen=7, tickwidth=1.2, tickcolor="#444",
        minor=dict(tickmode="array", tickvals=X_MINOR, ticks="inside", ticklen=4, tickwidth=1, tickcolor="#444", showgrid=False),
        zeroline=False, tickfont=tickfont)
    layout["yaxis" + n] = dict(
        domain=[1 - y1 / H, 1 - y0 / H], anchor="x" + n, range=[-11, 6], automargin=False,
        showline=True, linecolor="#c8c8c8", linewidth=1.8, mirror=True,
        showgrid=True, gridcolor="#c4c4c4", gridwidth=0.9, griddash="4px,3px",
        tickmode="array", tickvals=Y_TICKS, ticktext=Y_TICK_TEXT, showticklabels=(c == 0),
        ticks="inside", ticklen=6, tickwidth=1.2, tickcolor="#444",
        zeroline=False, tickfont=tickfont)

def ann(text, x, y, size, family, xanchor="left", angle=0, color="black"):
    return dict(text=text, x=x / W, y=1 - y / H, xref="paper", yref="paper", xanchor=xanchor,
                yanchor="middle", showarrow=False, textangle=angle, borderpad=0,
                font=dict(family=family, size=size, color=color))

annotations = []
# algorithm block
annotations.append(ann(ALGO_TITLE, 0, 29, ALGO_SIZE, SERIF))
for k, (lvl, txt, cmt) in enumerate(ALGO_LINES):
    yc = 89 + 47.8 * k
    annotations.append(ann(txt, INDENT_X[lvl], yc, MODELS_SIZE if k == 0 else ALGO_SIZE, SERIF))
    if cmt:
        annotations.append(ann(cmt, 1946, yc, ALGO_SIZE, SERIF, xanchor="right"))

# subplot titles & labels
for c, t in enumerate(PANEL_TITLES):
    xc = (COL_X[c][0] + COL_X[c][1]) / 2
    annotations.append(ann(t, xc, 1353, 26, SANS, xanchor="center"))
    annotations.append(ann(X_LABEL, xc, 2218, 22, SANS, xanchor="center"))
for r, t in enumerate(ROW_LABELS):
    yc = (ROW_Y[r][0] + ROW_Y[r][1]) / 2
    annotations.append(ann(t, 11, yc, 22, SANS, xanchor="center", angle=-90))

# legend line
sq = "<span style='font-family:DejaVu Sans;color:%s;font-size:35px'>\u25a0</span>"
legend_text = "<i>\u03c4</i> = (" + " ".join(sq % col + " " + lab for col, lab in zip(LEGEND_SQ, TAU_LABELS)) + ")"
annotations.append(ann(legend_text, 972, 2259, 40, SERIF, xanchor="center"))

shapes = [
    dict(type="line", xref="paper", yref="paper", x0=0, x1=1, y0=1 - 2.5 / H, y1=1 - 2.5 / H, line=dict(color="black", width=3)),
    dict(type="line", xref="paper", yref="paper", x0=0, x1=1, y0=1 - 56 / H, y1=1 - 56 / H, line=dict(color="black", width=1.6)),
    dict(type="line", xref="paper", yref="paper", x0=0, x1=1, y0=1 - 1169 / H, y1=1 - 1169 / H, line=dict(color="black", width=1.6)),
]

fig.update_layout(
    width=W, height=H, autosize=False,
    margin=dict(l=0, r=0, t=0, b=0, pad=0),
    paper_bgcolor="white", plot_bgcolor="#f0f0f0",
    showlegend=False, font=dict(family=SANS, color="black"),
    annotations=annotations, shapes=shapes, **layout)

fig.write_html("out.html")
